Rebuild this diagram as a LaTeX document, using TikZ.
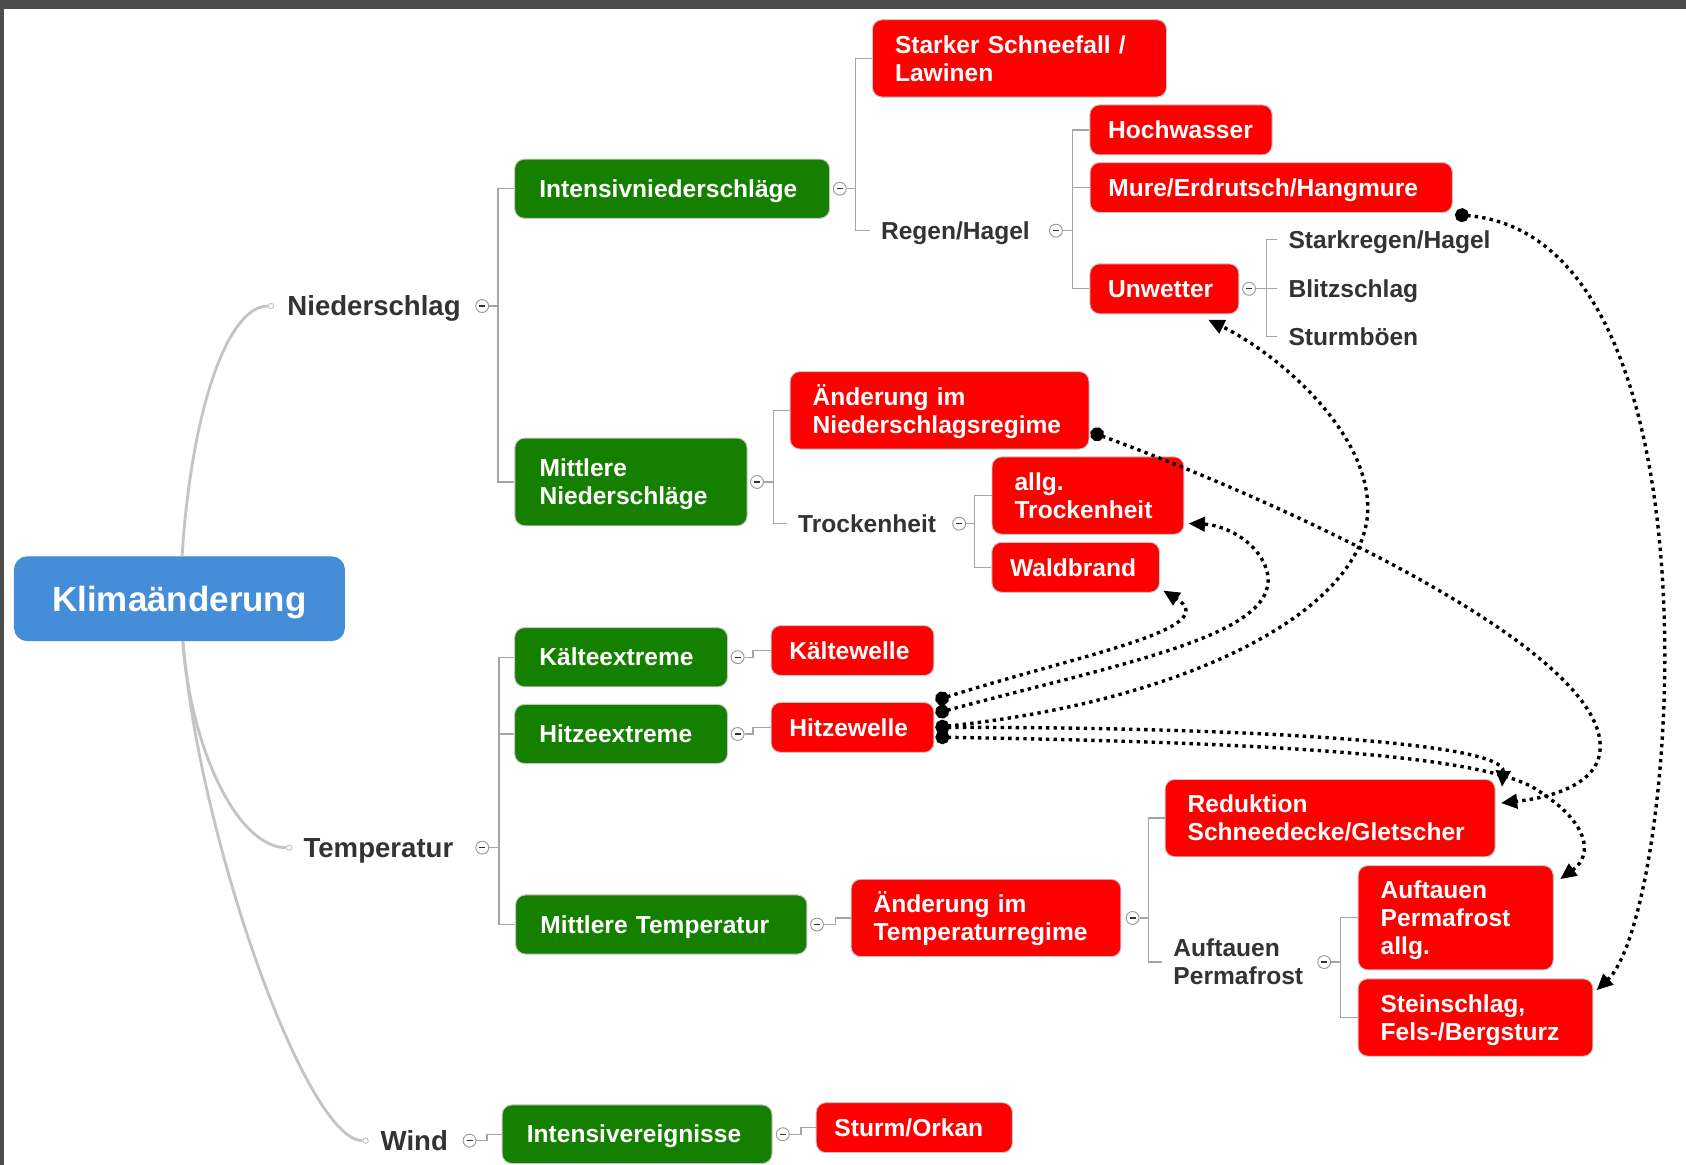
\documentclass[tikz,border=0pt]{standalone}
\usepackage{fontspec}
\setmainfont{Liberation Sans}
\usetikzlibrary{arrows.meta}

\definecolor{framegray}{RGB}{77,77,77}
\definecolor{rootblue}{RGB}{70,141,217}
\definecolor{catgreen}{RGB}{21,128,0}
\definecolor{hazred}{RGB}{255,0,0}
\definecolor{labelgray}{RGB}{51,51,51}
\definecolor{branchgray}{RGB}{165,165,165}
\definecolor{stemgray}{RGB}{196,196,196}

\hyphenpenalty=10000
\exhyphenpenalty=10000

\newcommand{\hazfont}{\fontsize{13}{14.8}\selectfont\bfseries}
\newcommand{\topicfont}{\fontsize{14.6}{16.5}\selectfont\bfseries}
\newcommand{\rootfont}{\fontsize{18.5}{21}\selectfont\bfseries}
\newcommand{\boxstrut}{\rule[-2.9pt]{0pt}{15.1pt}}

\tikzset{
  mapbox/.style = {rounded corners=0.18cm, draw=black!22, line width=0.5pt,
    text=white, font=\hazfont, align=left, inner ysep=0pt,
    execute at begin node={\lineskiplimit=-20pt\boxstrut}, execute at end node=\boxstrut},
  rootbox/.style = {mapbox, fill=rootblue, draw=rootblue, rounded corners=0.24cm,
    font=\rootfont, align=center, inner xsep=0pt, text height=13.3pt, text depth=0pt,
    execute at begin node={}, execute at end node={}},
  catbox/.style = {mapbox, fill=catgreen, inner xsep=0.46cm},
  hazbox/.style = {mapbox, fill=hazred, inner xsep=0.34cm, minimum height=0.93cm},
  hazbox2/.style = {mapbox, fill=hazred, inner xsep=0.42cm, minimum height=1.44cm},
  note/.style = {text=labelgray, font=\hazfont, inner xsep=0.2cm, inner ysep=0pt, anchor=west},
  sublabel/.style = {note, text height=9.3pt, text depth=0pt},
  topic/.style = {sublabel, font=\topicfont, text height=10.5pt},
  toggle/.style = {circle, draw=black!40, fill=white, line width=0.5pt, inner sep=0pt,
    minimum size=0.24cm,
    path picture={\draw[black!80, line width=0.7pt]
      ([xshift=-0.055cm]path picture bounding box.center) --
      ([xshift=0.055cm]path picture bounding box.center);}},
  stemdot/.style = {circle, draw=stemgray, fill=white, line width=0.5pt, inner sep=0pt,
    minimum size=0.1cm},
  stem/.style = {stemgray, line width=1.5pt},
  branch/.style = {branchgray, line width=0.7pt},
  link/.style = {black, line width=1.8pt, dash pattern=on 1.8pt off 2.2pt,
    arrows={Circle[length=7.4pt]-Triangle[length=8.6pt,width=7.6pt]}},
}

\begin{document}
\begin{tikzpicture}[x=0.02cm, y=-0.02cm]
\useasboundingbox (0,0) rectangle (1568,1083);
\fill[framegray] (0,0) rectangle (1568,1083);
\fill[white] (3.3,8.4) rectangle (1568,1083);

\node (root) [rootbox, minimum width=6.14cm, minimum height=1.56cm] at (166.9,556.8) {Klimaänderung};

% Niederschlag
\node (dN) [stemdot] at (252,284.6) {};
\node (lNied) [topic] at (257,284.6) {Niederschlag};
\node (tN) [toggle] at (448.4,284.6) {};

\node (gIntN) [catbox, text width=4.94cm, minimum height=1.1cm] at (625.1,175.5) {Intensivniederschläge};
\node (tIntN) [toggle] at (781,175.5) {};
\node (rSchnee) [hazbox2, text width=4.63cm] at (948.1,54.3) {Starker Schneefall /\\Lawinen};
\node (lRegen) [sublabel] at (809,214.5) {Regen/Hagel};
\node (tRegen) [toggle] at (982,214.5) {};
\node (rHoch) [hazbox, text width=2.71cm] at (1098.3,120.8) {Hochwasser};
\node (rMure) [hazbox, text width=6.06cm] at (1182.2,174.4) {Mure/Erdrutsch/Hangmure};
\node (rUnw) [hazbox, text width=2.09cm] at (1082.9,268.6) {Unwetter};
\node (tUnw) [toggle] at (1161.6,268.6) {};
\node (lStark) [sublabel] at (1188,223) {Starkregen/Hagel};
\node (lBlitz) [sublabel] at (1188,268.6) {Blitzschlag};
\node (lSturm) [sublabel] at (1188,313) {Sturmböen};

\node (gMitN) [catbox, text width=3.40cm, minimum height=1.63cm] at (586.8,448.2) {Mittlere\\Niederschläge};
\node (tMitN) [toggle] at (704,448.2) {};
\node (rAendN) [hazbox2, text width=4.72cm] at (873.8,381.6) {Änderung im\\Niederschlagsregime};
\node (lTrock) [sublabel] at (732,487) {Trockenheit};
\node (tTrock) [toggle] at (892,487) {};
\node (rTrock) [hazbox2, text width=2.73cm] at (1011.8,460.9) {allg.\\Trockenheit};
\node (rWald) [hazbox, text width=2.44cm] at (1000.4,527.6) {Waldbrand};

% Temperatur
\node (dT) [stemdot] at (269,788.3) {};
\node (lTemp) [topic] at (272,788.3) {Temperatur};
\node (tT) [toggle] at (448.5,788.3) {};

\node (gKalt) [catbox, text width=3.04cm, minimum height=1.1cm] at (577.6,611.2) {Kälteextreme};
\node (tKalt) [toggle] at (686,611.2) {};
\node (rKalt) [hazbox, text width=2.35cm] at (792.8,605) {Kältewelle};
\node (gHitz) [catbox, text width=3.04cm, minimum height=1.1cm] at (577.6,682.6) {Hitzeextreme};
\node (tHitz) [toggle] at (686,682.6) {};
\node (rHitz) [hazbox, text width=2.35cm] at (792.8,676.5) {Hitzewelle};

\node (gMitT) [catbox, text width=4.50cm, minimum height=1.1cm] at (615,859.8) {Mittlere Temperatur};
\node (tMitT) [toggle] at (759.8,859.8) {};
\node (rAendT) [hazbox2, text width=4.18cm] at (917,853.7) {Änderung im\\Temperaturregime};
\node (tAendT) [toggle] at (1053.3,853.7) {};
\node (rRed) [hazbox2, text width=5.30cm] at (1237,760.8) {Reduktion\\Schneedecke/Gletscher};
\node (lAuf) [note, align=left] at (1081,894.7) {Auftauen\\Permafrost};
\node (tAuf) [toggle] at (1231.5,894.7) {};
\node (rAufA) [hazbox2, text width=2.79cm, minimum height=1.94cm] at (1353.8,853.5) {Auftauen\\Permafrost\\allg.};
\node (rStein) [hazbox2, text width=3.53cm] at (1372.2,946.3) {Steinschlag,\\Fels-/Bergsturz};

% Wind
\node (dW) [stemdot] at (340,1060.8) {};
\node (lWind) [topic] at (343.7,1060.8) {Wind};
\node (tW) [toggle] at (436.7,1060.8) {};
\node (gWind) [catbox, text width=4.10cm, minimum height=1.09cm] at (592.5,1054.8) {Intensivereignisse};
\node (tIntE) [toggle] at (728,1054.8) {};
\node (rSturm) [hazbox, text width=2.97cm] at (850.3,1048.7) {Sturm/Orkan};

% Hauptäste
\draw[stem] (root) .. controls (178,380) and (212,284.6) .. (dN);
\draw[stem] (root) .. controls (178,700) and (222,788.3) .. (dT);
\draw[stem] (root) .. controls (185,780) and (285,1060.8) .. (dW);

% Verzweigungen
\draw[branch] (tN.east) -- ++(8.3,0) coordinate (kN);
\draw[branch] (gIntN.west) -| (kN) |- (gMitN.west);
\draw[branch] (tIntN.east) -- ++(8,0) coordinate (kIntN);
\draw[branch] (rSchnee.west) -| (kIntN) |- (lRegen.west);
\draw[branch] (tRegen.east) -- ++(9,0) coordinate (kRegen);
\draw[branch] (rHoch.west) -| (kRegen) |- (rUnw.west);
\draw[branch] (rMure.west) -- (kRegen |- rMure.west);
\draw[branch] (tUnw.east) -- ++(9.8,0) coordinate (kUnw);
\draw[branch] (lStark.west) -| (kUnw) |- (lSturm.west);
\draw[branch] (lBlitz.west) -- (kUnw |- lBlitz.west);
\draw[branch] (tMitN.east) -- ++(9,0) coordinate (kMitN);
\draw[branch] (rAendN.west) -| (kMitN) |- (lTrock.west);
\draw[branch] (tTrock.east) -- ++(8,0) coordinate (kTrock);
\draw[branch] (rTrock.west) -| (kTrock) |- (rWald.west);

\draw[branch] (tT.east) -- ++(9.2,0) coordinate (kT);
\draw[branch] (gKalt.west) -| (kT) |- (gMitT.west);
\draw[branch] (gHitz.west) -- (kT |- gHitz.west);
\draw[branch] (tKalt.east) -- ++(8,0) |- (rKalt.west);
\draw[branch] (tHitz.east) -- ++(8,0) |- (rHitz.west);
\draw[branch] (tMitT.east) -- ++(10.8,0) |- (rAendT.west);
\draw[branch] (tAendT.east) -- ++(8.4,0) coordinate (kAendT);
\draw[branch] (rRed.west) -| (kAendT) |- (lAuf.west);
\draw[branch] (tAuf.east) -- ++(8.5,0) coordinate (kAuf);
\draw[branch] (rAufA.west) -| (kAuf) |- (rStein.west);

\draw[branch] (tW.east) -- ++(9.8,0) |- (gWind.west);
\draw[branch] (tIntE.east) -- ++(10.5,0) |- (rSturm.west);

% Wirkungsketten
\draw[link] ([shift={(2,1.5)}]rMure.south east) .. controls (1610,220) and (1560,850) .. ([shift={(3,11)}]rStein.north east);
\draw[link] ([shift={(1,20)}]rAendN.east) .. controls (1200,470) and (1480,600) .. (1488,690)
  .. controls (1492,730) and (1440,742) .. ([shift={(5,-14)}]rRed.east);
\draw[link] ([shift={(1,-25)}]rHitz.east) .. controls (1000,610) and (1140,585) .. ([shift={(3,-2)}]rWald.south east);
\draw[link] ([shift={(1,-13)}]rHitz.east) .. controls (1050,615) and (1195,590) .. (1178,530)
  .. controls (1168,500) and (1135,488) .. ([shift={(4,26)}]rTrock.east);
\draw[link] ([shift={(1,0)}]rHitz.east) .. controls (1120,650) and (1275,560) .. (1272,470)
  .. controls (1270,400) and (1190,330) .. ([shift={(-29,5)}]rUnw.south east);
\draw[link] ([shift={(1,0)}]rHitz.east) .. controls (1150,676) and (1400,690) .. ([shift={(6,-29)}]rRed.east);
\draw[link] ([shift={(1,9)}]rHitz.east) .. controls (1150,690) and (1380,700) .. (1430,735)
  .. controls (1478,765) and (1482,795) .. ([shift={(6,13)}]rAufA.north east);
\end{tikzpicture}
\end{document}
